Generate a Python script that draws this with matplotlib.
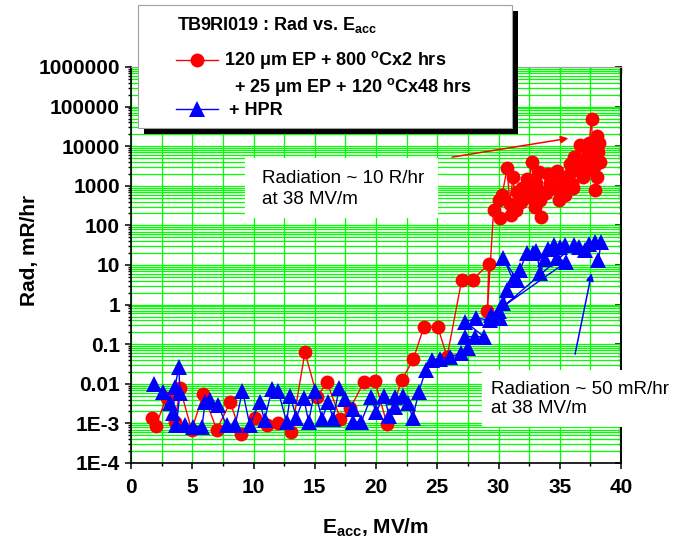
import numpy as np
import matplotlib.pyplot as plt
from matplotlib.ticker import LogLocator, MultipleLocator, NullFormatter
from matplotlib.patches import Rectangle
from matplotlib.lines import Line2D

plt.rcParams['font.family'] = 'Liberation Sans'
plt.rcParams['font.weight'] = 'bold'
plt.rcParams['mathtext.fontset'] = 'custom'
plt.rcParams['mathtext.rm'] = 'Liberation Sans:bold'
plt.rcParams['mathtext.bf'] = 'Liberation Sans:bold'
plt.rcParams['mathtext.it'] = 'Liberation Sans:bold'
plt.rcParams['mathtext.default'] = 'bf'

# 120 um EP + 800C x2 hrs + 25 um EP + 120C x48 hrs
red_e = [1.7, 2.0, 2.9, 3.6, 4.0, 4.95, 5.9, 7.0, 8.1, 9.0, 10.1, 11.1, 12.0, 13.1,
         14.2, 15.2, 16.0, 17.1, 17.9, 19.0, 19.9, 20.9, 22.1, 23.05, 23.9, 25.05,
         25.8, 27.0, 27.9, 29.2, 29.1,
         29.6, 30.1, 30.0, 30.3, 30.7, 31.0, 30.9, 31.2, 31.4, 31.5, 31.8, 31.9,
         32.2, 32.3, 32.4, 32.7, 32.9, 33.1, 33.0, 33.3, 33.5, 33.4, 33.7, 33.9,
         34.0, 34.2, 34.5, 34.75, 34.9, 35.0, 35.2, 35.4, 35.5, 35.8, 35.9, 36.0,
         36.1, 36.2, 36.4, 36.6, 36.65, 36.9, 37.0, 37.1, 37.3, 37.4, 37.6, 37.7,
         38.0, 38.2, 38.1, 38.3, 37.8, 38.0, 37.9]
red_rad = [1.4e-3, 8.5e-4, 4.5e-3, 1.1e-3, 7.8e-3, 6.8e-4, 5.5e-3, 7.0e-4, 3.4e-3,
           5.3e-4, 1.4e-3, 9.0e-4, 1.0e-3, 5.9e-4, 0.063, 4.7e-3, 0.011, 1.3e-3,
           2.4e-3, 0.011, 0.012, 9.6e-4, 0.0124, 0.042, 0.27, 0.27, 0.048, 4.2,
           4.3, 10.5, 0.7,
           245, 150, 440, 600, 2750, 180, 350, 1700, 250, 700, 400, 900,
           870, 1500, 520, 4100, 800, 1150, 300, 2200, 165, 440, 700, 645,
           2000, 1200, 870, 2300, 450, 1000, 1700, 590, 1400, 3500, 2200, 1100,
           870, 5400, 3000, 4500, 10700, 1700, 4000, 2400, 6600, 12000, 50000, 5500,
           18000, 12000, 7200, 4000, 3000, 1700, 780]

# + HPR
blue_e = [1.9, 2.6, 3.2, 3.45, 3.6, 3.9, 4.0, 3.7, 4.4, 5.1, 5.8, 6.05, 6.45, 7.1,
          7.8, 8.5, 9.1, 9.7, 10.5, 10.9, 11.5, 12.0, 12.7, 13.0, 13.5, 14.1, 14.5,
          15.0, 15.6, 16.1, 16.5, 17.0, 17.5, 18.1, 18.1, 18.8, 19.6, 20.0, 20.65,
          21.1, 21.55, 21.55, 22.2, 22.6, 23.0, 23.5, 24.05, 24.6, 25.2, 26.0,
          26.9, 27.5, 27.3, 28.1, 28.8, 27.3, 28.2, 29.3, 30.1, 30.4, 30.7, 31.2,
          30.4, 31.5, 31.75, 32.3, 32.8, 33.1, 33.4, 33.8, 34.0, 34.5, 35.0, 35.4,
          34.75, 35.55, 29.4, 30.0, 36.2, 36.6, 37.1, 37.4, 37.9, 38.4, 38.15]
blue_rad = [0.010, 6.3e-3, 3.2e-3, 1.8e-3, 8.5e-3, 0.027, 5.8e-3, 9e-4, 9e-4,
            8.3e-4, 8.3e-4, 3.5e-3, 3.9e-3, 2.9e-3, 9e-4, 9e-4, 6.7e-3, 9e-4,
            3.5e-3, 1.2e-3, 7.2e-3, 6.7e-3, 1.1e-3, 4.9e-3, 1.4e-3, 4.4e-3,
            1.1e-3, 6.7e-3, 1.3e-3, 3.5e-3, 1.3e-3, 7.8e-3, 4.2e-3, 2.3e-3,
            1.1e-3, 1.1e-3, 4.7e-3, 1.9e-3, 4.9e-3, 1.5e-3, 4.7e-3, 2.6e-3,
            4.9e-3, 3.2e-3, 1.4e-3, 6.3e-3, 0.022, 0.041, 0.043, 0.047, 0.059,
            0.079, 0.155, 0.155, 0.155, 0.37, 0.45, 0.41, 0.45, 1.07, 2.3, 4.2,
            14.7, 4.2, 7.4, 20, 20, 22, 6.2, 14, 25, 32, 29, 32,
            15, 12, 0.55, 0.7, 32, 28, 24, 33, 39, 39, 13.5]

ytick_vals = [1e-4, 1e-3, 1e-2, 1e-1, 1, 10, 100, 1e3, 1e4, 1e5, 1e6]
ytick_labels = ['1E-4', '1E-3', '0.01', '0.1', '1', '10', '100', '1000',
                '10000', '100000', '1000000']
xtick_vals = [0, 5, 10, 15, 20, 25, 30, 35, 40]

W, H = 689, 542
def fx(px):
    return px / W
def fy(py):
    return 1 - py / H

fig = plt.figure(figsize=(W / 100, H / 100), dpi=100)
ax = fig.add_axes([fx(131), fy(463), 490 / W, 396 / H])

ax.plot(red_e, red_rad, '-', color='red', lw=1.0, marker='o', ms=10,
        markeredgewidth=0, zorder=3)
ax.plot(blue_e, blue_rad, '-', color='blue', lw=1.0, marker='^', ms=11.5,
        markeredgewidth=0, zorder=4)

ax.set_yscale('log')
ax.set_ylim(1e-4, 1e6)
ax.set_xlim(0, 40)
ax.set_yticks(ytick_vals, ytick_labels)
ax.yaxis.set_minor_locator(LogLocator(base=10, subs=np.arange(2, 10), numticks=100))
ax.yaxis.set_minor_formatter(NullFormatter())
ax.set_xticks(xtick_vals)
ax.xaxis.set_minor_locator(MultipleLocator(2.5))

ax.set_axisbelow(True)
ax.grid(which='both', color='#00ff00', lw=0.9)
ax.tick_params(which='major', direction='out', length=4, width=1.1, labelsize=15)
ax.tick_params(which='minor', direction='out', length=2.5, width=1.0)
ax.tick_params(axis='x', pad=7)
ax.tick_params(axis='y', pad=4)
for s in ['left', 'bottom', 'right']:
    ax.spines[s].set_linewidth(1.2)
ax.spines['top'].set_color('#a0a0a0')
ax.spines['top'].set_linewidth(0.8)

secx = ax.secondary_xaxis('top')
secx.set_xticks(np.arange(0, 40.1, 2.5))
secx.tick_params(direction='in', length=4, width=1.0, labeltop=False)
secx.spines['top'].set_color('#a0a0a0')
secx.spines['top'].set_linewidth(0.8)

secy = ax.secondary_yaxis('right')
secy.set_yticks(ytick_vals)
secy.yaxis.set_minor_locator(LogLocator(base=10, subs=np.arange(2, 10), numticks=100))
secy.yaxis.set_minor_formatter(NullFormatter())
secy.tick_params(which='major', direction='in', length=4, width=1.1, labelright=False)
secy.tick_params(which='minor', direction='in', length=2.5, width=1.0)
secy.spines['right'].set_linewidth(1.2)

fig.text(fx(30), fy(250), 'Rad, mR/hr', rotation=90, ha='center', va='center',
         fontsize=15)
fig.text(fx(376), fy(528), 'E$_{acc}$, MV/m', ha='center', va='center',
         fontsize=15)

# arrows
ax.annotate('', xy=(35.7, 15800), xytext=(26.2, 5300),
            arrowprops=dict(arrowstyle='-|>', color='red', lw=1.1,
                            mutation_scale=11, shrinkA=0, shrinkB=0))
ax.annotate('', xy=(37.6, 6.2), xytext=(36.25, 0.056),
            arrowprops=dict(arrowstyle='-|>', color='blue', lw=1.1,
                            mutation_scale=11, shrinkA=0, shrinkB=0))

# annotation boxes
for (x0, y0, x1, y1) in [(245, 158, 438, 218), (482, 370, 682, 427)]:
    fig.add_artist(Rectangle((fx(x0), fy(y1)), (x1 - x0) / W, (y1 - y0) / H,
                             transform=fig.transFigure, facecolor='white',
                             edgecolor='none', zorder=2))
fig.text(fx(262), fy(189), 'Radiation ~ 10 R/hr\nat 38 MV/m', ha='left',
         va='center', fontsize=13.5, fontweight='normal', linespacing=1.25,
         zorder=3)
fig.text(fx(491), fy(399), 'Radiation ~ 50 mR/hr\nat 38 MV/m', ha='left',
         va='center', fontsize=13.5, fontweight='normal', linespacing=1.2,
         zorder=3)

# legend box with shadow
fig.add_artist(Rectangle((fx(144), fy(134)), (512 - 138) / W, (128 - 5) / H,
                         transform=fig.transFigure, facecolor='black',
                         edgecolor='none', zorder=2))
fig.add_artist(Rectangle((fx(138), fy(128)), (512 - 138) / W, (128 - 5) / H,
                         transform=fig.transFigure, facecolor='white',
                         edgecolor='#a0a0a0', lw=0.8, zorder=2.1))
fig.text(fx(177), fy(30), 'TB9RI019 : Rad vs. E$_{acc}$', ha='left',
         va='baseline', fontsize=13, zorder=3)
fig.text(fx(224), fy(65), '120 μm EP + 800 $^{o}$Cx2 hrs', ha='left',
         va='baseline', fontsize=13, zorder=3)
fig.text(fx(234), fy(92), '+ 25 μm EP + 120 $^{o}$Cx48 hrs', ha='left',
         va='baseline', fontsize=13, zorder=3)
fig.text(fx(229), fy(115), '+ HPR', ha='left', va='baseline', fontsize=13,
         zorder=3)
fig.add_artist(Line2D([fx(176), fx(218)], [fy(60), fy(60)], color='red', lw=1.0,
                      transform=fig.transFigure, zorder=3))
fig.add_artist(Line2D([fx(197)], [fy(60)], color='red', marker='o', ms=10,
                      markeredgewidth=0, transform=fig.transFigure, zorder=3))
fig.add_artist(Line2D([fx(176), fx(218)], [fy(109), fy(109)], color='blue',
                      lw=1.0, transform=fig.transFigure, zorder=3))
fig.add_artist(Line2D([fx(197)], [fy(109)], color='blue', marker='^', ms=11.5,
                      markeredgewidth=0, transform=fig.transFigure, zorder=3))

fig.savefig('out.png', dpi=100)
